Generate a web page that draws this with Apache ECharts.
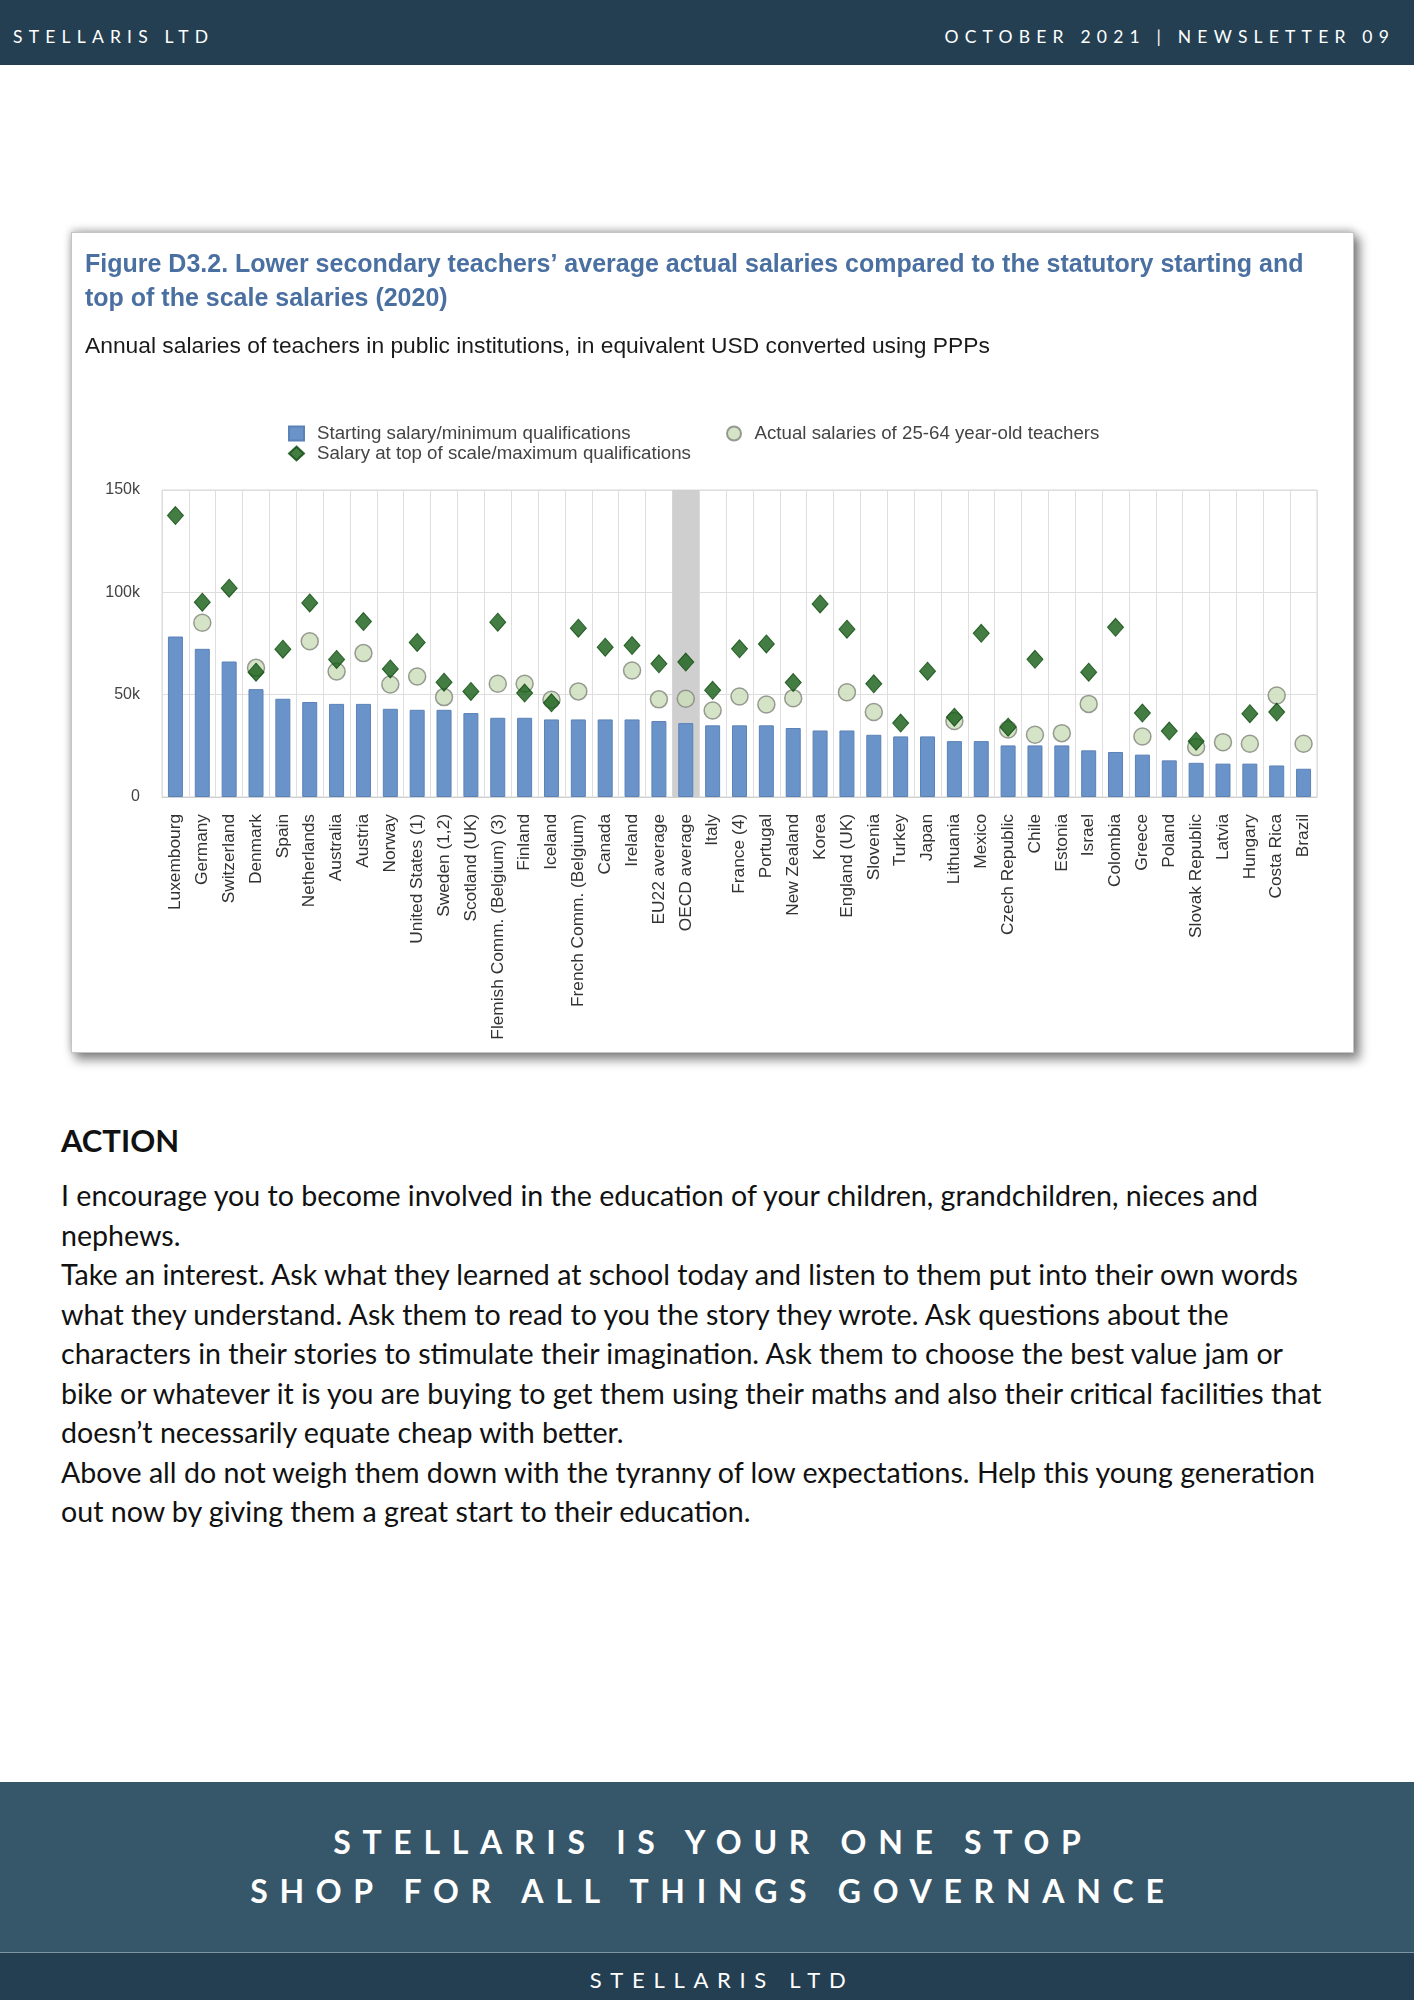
<!DOCTYPE html>
<html>
<head>
<meta charset="utf-8">
<script src="https://cdn.jsdelivr.net/npm/echarts@6/dist/echarts.min.js"></script>
<style>
  html, body { margin:0; padding:0; background:#fff; }
  body { width:1414px; height:2000px; position:relative; overflow:hidden; font-family: Lato, "Open Sans", sans-serif; }
  .hdr { position:absolute; left:0; top:0; width:1414px; height:65px; background:#243f52; }
  .hdr span { position:absolute; top:27px; line-height:20px; font-size:17.5px; color:#fff; letter-spacing:6.2px; white-space:nowrap; }
  #frame { position:absolute; left:71px; top:232px; width:1281px; height:819px; border:1px solid #c4c4c4; background:#fff;
           box-shadow: 5px 6px 10px 1px rgba(0,0,0,0.45), 0 -2px 8px rgba(0,0,0,0.25); }
  #chart { position:absolute; left:0; top:0; width:1281px; height:819px; }
  .h2 { position:absolute; left:61px; top:1123px; font-size:31px; line-height:35px; font-weight:bold; color:#111; }
  .para { position:absolute; left:61px; top:1176px; font-size:28.6px; line-height:39.5px; color:#111; }
  .para div { white-space:nowrap; }
  .foot { position:absolute; left:0; top:1782px; width:1414px; height:170px; background:#36566a; border-bottom:1px solid #7f95a4; }
  .foot .t { position:absolute; left:0; top:35px; width:1414px; text-align:center; font-size:32px; line-height:49px; font-weight:bold; color:#fff; letter-spacing:11.7px; padding-left:11.7px; box-sizing:border-box; }
  .bot { position:absolute; left:0; top:1953px; width:1414px; height:47px; background:#243f52; }
  .bot .t { position:absolute; left:0; top:14px; width:1414px; text-align:center; font-size:22px; line-height:26px; color:#fff; letter-spacing:8.7px; padding-left:30px; box-sizing:border-box; }
</style>
</head>
<body>
<div class="hdr">
  <span style="left:13px;">STELLARIS LTD</span>
  <span style="right:19px;">OCTOBER 2021 | NEWSLETTER 09</span>
</div>

<div id="frame"><div id="chart"></div></div>

<div class="h2">ACTION</div>
<div class="para">
  <div>I encourage you to become involved in the education of your children, grandchildren, nieces and</div>
  <div>nephews.</div>
  <div>Take an interest. Ask what they learned at school today and listen to them put into their own words</div>
  <div>what they understand. Ask them to read to you the story they wrote. Ask questions about the</div>
  <div>characters in their stories to stimulate their imagination. Ask them to choose the best value jam or</div>
  <div>bike or whatever it is you are buying to get them using their maths and also their critical facilities that</div>
  <div>doesn’t necessarily equate cheap with better.</div>
  <div>Above all do not weigh them down with the tyranny of low expectations. Help this young generation</div>
  <div>out now by giving them a great start to their education.</div>
</div>

<div class="foot">
  <div class="t">STELLARIS IS YOUR ONE STOP<br>SHOP FOR ALL THINGS GOVERNANCE</div>
</div>
<div class="bot"><div class="t">STELLARIS LTD</div></div>

<script>
const categories = ["Luxembourg","Germany","Switzerland","Denmark","Spain","Netherlands","Australia","Austria","Norway","United States (1)","Sweden (1,2)","Scotland (UK)","Flemish Comm. (Belgium) (3)","Finland","Iceland","French Comm. (Belgium)","Canada","Ireland","EU22 average","OECD average","Italy","France (4)","Portugal","New Zealand","Korea","England (UK)","Slovenia","Turkey","Japan","Lithuania","Mexico","Czech Republic","Chile","Estonia","Israel","Colombia","Greece","Poland","Slovak Republic","Latvia","Hungary","Costa Rica","Brazil"];

const startingSalary = [78400,72400,66200,52700,48000,46400,45500,45500,43100,42600,42600,41000,38700,38700,37900,37900,37900,37900,37100,36100,35000,35000,35000,33700,32500,32500,30400,29600,29600,27300,27300,25200,25200,25200,22800,22000,20700,17900,16700,16300,16300,15400,13800];

const topSalary = [137500,95200,102000,61000,72200,94800,67200,85700,62600,75500,56100,51600,85400,50800,46000,82500,73200,74000,65100,65900,52100,72400,74800,55900,94300,82000,55300,36100,61500,39000,80000,34100,67300,null,61000,82900,41000,32200,27300,null,40700,41500,null];

const actualSalary = [null,85100,null,63100,null,76100,61300,70300,55000,58900,48800,null,55300,55300,47500,51600,null,61800,47700,48000,42300,49100,45200,48300,null,51200,41500,null,null,37100,null,33000,30400,31200,45500,null,29600,null,24400,26800,26000,49600,26000];

const yTickLabels = {0:"0", 50000:"50k", 100000:"100k", 150000:"150k"};

const seriesNames = ["Starting salary/minimum qualifications","Salary at top of scale/maximum qualifications","Actual salaries of 25-64 year-old teachers"];
const highlightCategory = "OECD average";

const FONT = "'Liberation Sans', Arial, sans-serif";
const chart = echarts.init(document.getElementById('chart'));

const legendBase = {
  orient: 'horizontal', itemWidth: 15, itemHeight: 14,
  textStyle: { fontFamily: FONT, fontSize: 18.7, color: '#444', padding: [0,0,0,8] },
  selectedMode: false
};

chart.setOption({
  animation: false,
  title: [
    { text: "Figure D3.2. Lower secondary teachers’ average actual salaries compared to the statutory starting and\ntop of the scale salaries (2020)",
      left: 13, top: 15, padding: 0,
      textStyle: { fontFamily: FONT, fontSize: 25, fontWeight: 'bold', color: '#4a6fa1', lineHeight: 34 } },
    { text: "Annual salaries of teachers in public institutions, in equivalent USD converted using PPPs",
      left: 13, top: 100, padding: 0,
      textStyle: { fontFamily: FONT, fontSize: 22.8, fontWeight: 'normal', color: '#1a1a1a', lineHeight: 28 } }
  ],
  legend: [
    Object.assign({}, legendBase, { left: 216, top: 191, padding: 0, data: [{ name: seriesNames[0], icon: 'rect' }] }),
    Object.assign({}, legendBase, { left: 216, top: 211, padding: 0, data: [{ name: seriesNames[1], icon: 'diamond' }] }),
    Object.assign({}, legendBase, { left: 654, top: 191, padding: 0, data: [{ name: seriesNames[2], icon: 'circle' }] })
  ],
  grid: { left: 90, right: 36, top: 257, bottom: 255, show: true, borderColor: '#d6d6d6', borderWidth: 1 },
  xAxis: {
    type: 'category', data: categories, boundaryGap: true,
    axisLine: { lineStyle: { color: '#d0d0d0' } },
    axisTick: { show: false },
    splitLine: { show: true, interval: 0, lineStyle: { color: '#dedede', width: 1 } },
    axisLabel: { interval: 0, rotate: 90, margin: 17, fontFamily: FONT, fontSize: 17.3, color: '#333' }
  },
  yAxis: {
    type: 'value', min: 0, max: 150000, interval: 50000,
    axisLine: { show: false }, axisTick: { show: false },
    splitLine: { lineStyle: { color: '#dedede' } },
    axisLabel: { margin: 22, fontFamily: FONT, fontSize: 16, color: '#444',
      formatter: v => yTickLabels[v] !== undefined ? yTickLabels[v] : '' }
  },
  series: [
    { name: seriesNames[0], type: 'bar', data: startingSalary, barWidth: 15, z: 2,
      itemStyle: { color: '#6a93c9', borderColor: '#5b82b6', borderWidth: 1 },
      markArea: { silent: true, itemStyle: { color: '#cfcfcf' },
        data: [[{ xAxis: highlightCategory }, { xAxis: highlightCategory }]] } },
    { name: seriesNames[2], type: 'scatter', data: actualSalary, symbol: 'circle', symbolSize: 17, z: 3,
      itemStyle: { color: '#cadcb9', borderColor: '#7f857a', borderWidth: 1.5 } },
    { name: seriesNames[1], type: 'scatter', data: topSalary, symbol: 'diamond', symbolSize: [16, 18], z: 4,
      itemStyle: { color: '#145c14', borderColor: '#0c4a0e', borderWidth: 1 } }
  ]
});
</script>
</body>
</html>
